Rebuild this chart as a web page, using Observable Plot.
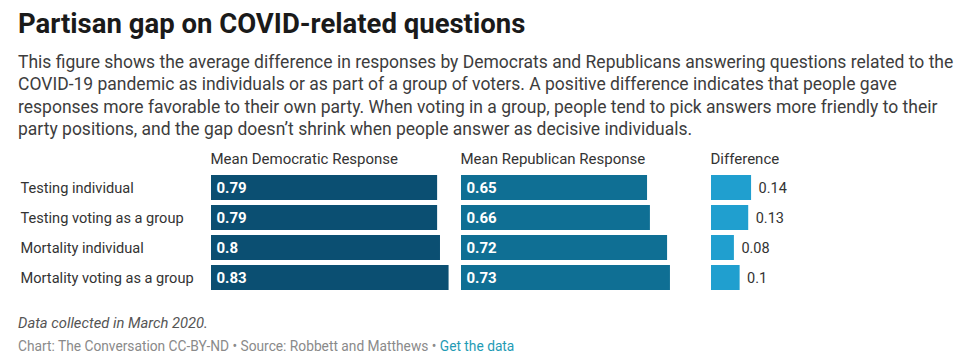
<!DOCTYPE html>
<html>
<head>
<meta charset="utf-8">
<script src="https://cdn.jsdelivr.net/npm/d3@7"></script>
<script src="https://cdn.jsdelivr.net/npm/@observablehq/plot@0.6"></script>
<style>
  html, body { margin: 0; padding: 0; background: #fff; width: 980px; height: 359px; overflow: hidden; }
  body { position: relative; font-family: Roboto, "Noto Sans", sans-serif; }
  .t { position: absolute; left: 18px; white-space: nowrap; }
  #title { top: 7.6px; font-size: 27.5px; line-height: 32px; font-weight: 700; color: #1a1a1a; }
  #desc { top: 51px; font-size: 17.5px; line-height: 22.3px; color: #3d3d3d; }
  #note { top: 314px; font-size: 14.75px; line-height: 18px; font-style: italic; color: #555; }
  #credit { top: 337.5px; font-size: 13.75px; line-height: 17px; color: #8a8a8a; }
  #credit a { color: #1f9bb5; text-decoration: none; }
  #chart { position: absolute; left: 0; top: 145px; }
</style>
</head>
<body>
<div class="t" id="title">Partisan gap on COVID-related questions</div>
<div class="t" id="desc">This figure shows the average difference in responses by Democrats and Republicans answering questions related to the<br>COVID-19 pandemic as individuals or as part of a group of voters. A positive difference indicates that people gave<br>responses more favorable to their own party. When voting in a group, people tend to pick answers more friendly to their<br>party positions, and the gap doesn’t shrink when people answer as decisive individuals.</div>
<div id="chart"></div>
<div class="t" id="note">Data collected in March 2020.</div>
<div class="t" id="credit">Chart: The Conversation CC-BY-ND • Source: Robbett and Matthews • <a>Get the data</a></div>
<script>
const questions = ["Testing individual", "Testing voting as a group", "Mortality individual", "Mortality voting as a group"];
const columns = ["Mean Democratic Response", "Mean Republican Response", "Difference"];
const demValues = [0.79, 0.79, 0.8, 0.83];
const repValues = [0.65, 0.66, 0.72, 0.73];
const diffValues = [0.14, 0.13, 0.08, 0.1];
const colors = ["#0b4f72", "#0f6f94", "#209fcf"];

const series = [demValues, repValues, diffValues];
const rows = [];
columns.forEach((col, ci) => {
  questions.forEach((q, qi) => rows.push({col, q, value: series[ci][qi]}));
});

const chart = Plot.plot({
  width: 980,
  height: 151,
  marginLeft: 210,
  marginRight: 28,
  marginTop: 27,
  marginBottom: 4,
  style: {fontFamily: "Roboto, sans-serif", fontSize: "14px", color: "#333", background: "transparent"},
  fx: {domain: columns, axis: null, paddingInner: 0.0438, paddingOuter: 0},
  x: {domain: [0, 0.835], axis: null},
  y: {domain: questions, paddingInner: 0.18, paddingOuter: 0.09, axis: null},
  color: {domain: columns, range: colors},
  marks: [
    Plot.barX(rows, {fx: "col", y: "q", x: "value", fill: "col"}),
    Plot.text(rows.filter(d => d.col !== "Difference"), {
      fx: "col", y: "q", x: 0, text: d => String(d.value),
      textAnchor: "start", dx: 5, fill: "#fff", fontWeight: "bold", fontSize: 15
    }),
    Plot.text(rows.filter(d => d.col === "Difference"), {
      fx: "col", y: "q", x: "value", text: d => String(d.value),
      textAnchor: "start", dx: 7, fill: "#333", fontSize: 14.5
    }),
    Plot.text(columns, {
      fx: d => d, text: d => d, frameAnchor: "top-left", lineAnchor: "middle", dy: -13, dx: -1,
      textAnchor: "start", fill: "#333", fontSize: 15
    }),
    Plot.axisY({tickSize: 0, textAnchor: "start", dx: -182, label: null, fontSize: 14.6, fill: "#333"})
  ]
});
document.getElementById("chart").appendChild(chart);
</script>
</body>
</html>
